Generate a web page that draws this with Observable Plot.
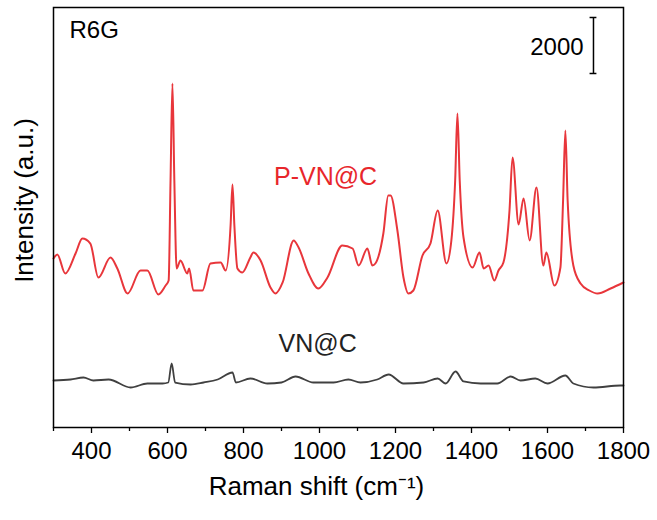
<!DOCTYPE html>
<html>
<head>
<meta charset="utf-8">
<script src="https://cdn.jsdelivr.net/npm/d3@7"></script>
<script src="https://cdn.jsdelivr.net/npm/@observablehq/plot@0.6"></script>
<style>
  html, body { margin: 0; padding: 0; background: #fff; overflow: hidden; }
  #chart { width: 657px; height: 520px; }
</style>
</head>
<body>
<div id="chart"></div>
<script>
// P-VN@C spectrum (Raman shift, intensity in counts)
const redShift = [300, 310, 331, 358, 376, 397, 418, 450, 468, 495, 529, 547, 576, 595, 603, 608, 613, 618, 624, 634, 652, 657, 668, 692, 713, 740, 753, 766, 771, 776, 784, 797, 818, 826, 845, 871, 884, 903, 932, 945, 971, 997, 1021, 1060, 1087, 1103, 1126, 1139, 1147, 1168, 1181, 1187, 1205, 1221, 1234, 1247, 1271, 1292, 1311, 1334, 1347, 1357, 1363, 1369, 1379, 1403, 1421, 1432, 1445, 1460, 1471, 1484, 1500, 1508, 1524, 1537, 1553, 1571, 1589, 1597, 1618, 1634, 1641, 1647, 1653, 1668, 1687, 1710, 1732, 1766, 1800];
const redIntensity = [6036, 6179, 5500, 6214, 6750, 6571, 5357, 6071, 5679, 4786, 5607, 5607, 4750, 5071, 5250, 8821, 12286, 8821, 5679, 5964, 5500, 5679, 4893, 4893, 5857, 5893, 5607, 7214, 8679, 7214, 5679, 5536, 6071, 6250, 5964, 5000, 4786, 5179, 6679, 6429, 5500, 4964, 5357, 6500, 6393, 5786, 6393, 5786, 5857, 6929, 8286, 8286, 7036, 5357, 4786, 4893, 6143, 6571, 7750, 5857, 6679, 8821, 11214, 8821, 6786, 5714, 6250, 5679, 5786, 5250, 5607, 5893, 7750, 9643, 7250, 8179, 6679, 8571, 5786, 6250, 5071, 5714, 8107, 10607, 8107, 5786, 5143, 4893, 4786, 4964, 5179];

// VN@C spectrum
const grayShift = [300, 345, 379, 405, 445, 503, 547, 587, 602, 611, 620, 661, 695, 732, 771, 780, 818, 863, 900, 937, 984, 1037, 1076, 1108, 1152, 1182, 1221, 1274, 1311, 1332, 1358, 1379, 1424, 1468, 1503, 1529, 1568, 1600, 1647, 1668, 1721, 1792, 1800];
const grayIntensity = [1679, 1714, 1786, 1679, 1714, 1429, 1571, 1571, 1607, 2286, 1607, 1536, 1607, 1714, 1964, 1607, 1750, 1571, 1607, 1821, 1607, 1607, 1714, 1607, 1714, 1893, 1571, 1607, 1750, 1571, 2000, 1643, 1571, 1571, 1821, 1679, 1750, 1571, 1857, 1571, 1429, 1500, 1500];

const majorTicks = [400, 600, 800, 1000, 1200, 1400, 1600, 1800];
const minorTicks = [300, 500, 700, 900, 1100, 1300, 1500, 1700];

const seriesLabels = ["P-VN@C", "VN@C"];
const scaleBarValue = 2000;

const red = redShift.map((x, i) => ({x, y: redIntensity[i]}));
const gray = grayShift.map((x, i) => ({x, y: grayIntensity[i]}));

const barX = 1721, barTop = 14643, barBottom = barTop - scaleBarValue;

const chart = Plot.plot({
  width: 657,
  height: 520,
  marginLeft: 53,
  marginRight: 34,
  marginTop: 7,
  marginBottom: 93,
  style: {fontFamily: "'Liberation Sans', Arial, sans-serif", fontSize: "24px", color: "#000", background: "#fff"},
  x: {domain: [300, 1800], axis: null},
  y: {domain: [0, 15000], axis: null},
  marks: [
    Plot.axisX({ticks: minorTicks, tickSize: 4, tickFormat: () => "", label: null, strokeWidth: 1.3}),
    Plot.axisX({ticks: majorTicks, tickSize: 6, tickPadding: 8, tickFormat: d => String(d), label: null, strokeWidth: 1.3, fontSize: 24}),
    Plot.line(gray, {x: "x", y: "y", stroke: "#404040", strokeWidth: 1.8, curve: "monotone-x"}),
    Plot.line(red, {x: "x", y: "y", stroke: "#e8363b", strokeWidth: 2, curve: "monotone-x"}),
    Plot.frame({stroke: "#000", strokeWidth: 1.5}),
    Plot.text(["R6G"], {x: 342, y: 14179, textAnchor: "start", fontSize: 24, fill: "#000"}),
    Plot.text([seriesLabels[0]], {x: 1016, y: 8964, fontSize: 25, fill: "#e8262b"}),
    Plot.text([seriesLabels[1]], {x: 995, y: 3000, fontSize: 25, fill: "#222"}),
    Plot.text([String(scaleBarValue)], {x: 1695, y: 13589, textAnchor: "end", fontSize: 24, fill: "#000"}),
    Plot.ruleX([barX], {y1: barBottom, y2: barTop, stroke: "#000", strokeWidth: 1.5}),
    Plot.ruleY([barBottom, barTop], {x1: barX - 9, x2: barX + 9, stroke: "#000", strokeWidth: 1.5}),
    Plot.text(["Raman shift (cm⁻¹)"], {frameAnchor: "bottom", x: 992, dy: 67, fontSize: 26, fill: "#000"}),
    Plot.text(["Intensity (a.u.)"], {frameAnchor: "left", y: 8107, dx: -29, rotate: -90, textAnchor: "middle", fontSize: 26, fill: "#000"})
  ]
});
document.getElementById("chart").appendChild(chart);
</script>
</body>
</html>
